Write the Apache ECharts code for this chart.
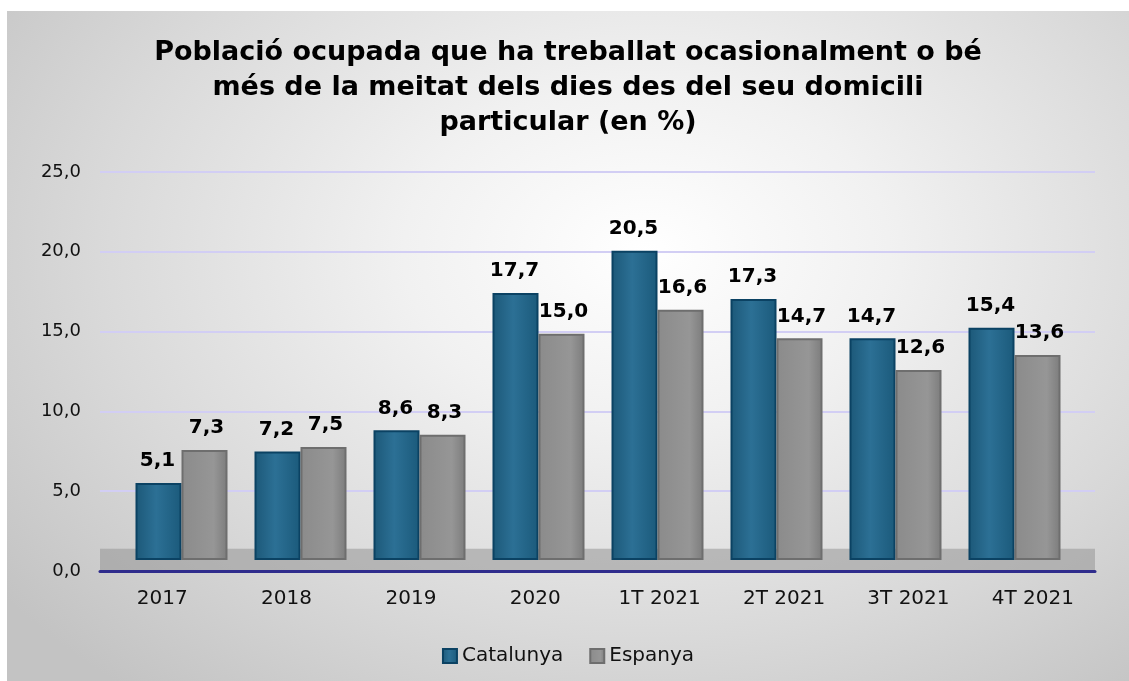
<!DOCTYPE html>
<html lang="ca">
<head>
    <meta charset="UTF-8">
    <script src="https://cdn.jsdelivr.net/npm/echarts@6/dist/echarts.min.js"></script>
    <title>Població ocupada - teletreball</title>
    <style>
        body {
            margin: 0;
            background: #ffffff;
        }
        #main {
            position: absolute;
            left: 7px;
            top: 11px;
            width: 1122px;
            height: 670px;
            /* fons degradat com l'original */
            background: radial-gradient(ellipse 72% 85% at 57% 36%, #ffffff 0%, #f1f1f1 30%, #d9d9d9 68%, #c3c3c3 100%);
        }
    </style>
</head>
<body>
<div id="main"></div>

<script>
    var categories = ['2017', '2018', '2019', '2020', '1T 2021', '2T 2021', '3T 2021', '4T 2021'];
    var catalunya = [5.1, 7.2, 8.6, 17.7, 20.5, 17.3, 14.7, 15.4];
    var espanya = [7.3, 7.5, 8.3, 15.0, 16.6, 14.7, 12.6, 13.6];

    var font = 'DejaVu Sans, Verdana, sans-serif';

    function fmt(v) {
        return v.toFixed(1).replace('.', ',');
    }

    var labelStyle = {
        show: true,
        position: 'top',
        distance: 12,
        fontFamily: font,
        fontSize: 20,
        fontWeight: 'bold',
        color: '#000',
        formatter: function (p) { return fmt(p.value); }
    };

    var chart = echarts.init(document.getElementById('main'));

    chart.setOption({
        backgroundColor: 'transparent',
        textStyle: { fontFamily: font },
        title: {
            text: 'Població ocupada que ha treballat ocasionalment o bé\nmés de la meitat dels dies des del seu domicili\nparticular (en %)',
            left: 'center',
            top: 19,
            textStyle: {
                fontFamily: font,
                fontSize: 27,
                fontWeight: 'bold',
                color: '#000',
                lineHeight: 35
            }
        },
        legend: {
            bottom: 10,
            left: 'center',
            itemWidth: 14,
            itemHeight: 14,
            itemGap: 26,
            icon: 'rect',
            textStyle: { fontFamily: font, fontSize: 20, color: '#111' },
            data: ['Catalunya', 'Espanya']
        },
        // grid 0: eixos, etiquetes i línies; grid 1: barres (efecte de perspectiva)
        grid: [
            { left: 93, right: 34, top: 161, bottom: 110 },
            { left: 115, right: 55, top: 172, bottom: 121 }
        ],
        xAxis: [
            {
                type: 'category',
                gridIndex: 0,
                data: categories,
                axisTick: { show: false },
                axisLine: { lineStyle: { color: '#2f2c8c', width: 3 } },
                axisLabel: { fontFamily: font, fontSize: 20, color: '#111', margin: 18 },
                z: 5
            },
            {
                type: 'category',
                gridIndex: 1,
                data: categories,
                show: false
            }
        ],
        yAxis: [
            {
                type: 'value',
                gridIndex: 0,
                min: 0,
                max: 25,
                interval: 5,
                axisLabel: {
                    fontFamily: font, fontSize: 18, color: '#111', margin: 19,
                    formatter: function (v) { return fmt(v); }
                },
                splitLine: { lineStyle: { color: '#d2cef4', width: 2 } }
            },
            {
                type: 'value',
                gridIndex: 1,
                min: 0,
                max: 25,
                interval: 5,
                show: false,
                splitLine: { show: false }
            }
        ],
        series: [
            {
                name: 'terra',
                type: 'bar',
                xAxisIndex: 0,
                yAxisIndex: 0,
                data: [],
                z: 1,
                silent: true,
                markArea: {
                    silent: true,
                    itemStyle: { color: 'rgba(150,150,150,0.55)' },
                    data: [[{ yAxis: 0 }, { yAxis: 1.4 }]]
                }
            },
            {
                name: 'Catalunya',
                type: 'bar',
                xAxisIndex: 1,
                yAxisIndex: 1,
                data: catalunya,
                barWidth: 46,
                barGap: '0%',
                z: 3,
                itemStyle: {
                    color: new echarts.graphic.LinearGradient(0, 0, 1, 0, [
                        { offset: 0, color: '#1c5878' },
                        { offset: 0.45, color: '#2c7095' },
                        { offset: 1, color: '#1b5a7b' }
                    ]),
                    borderColor: '#0b4263',
                    borderWidth: 2
                },
                label: Object.assign({}, labelStyle, { offset: [-1, 0] })
            },
            {
                name: 'Espanya',
                type: 'bar',
                xAxisIndex: 1,
                yAxisIndex: 1,
                data: espanya,
                barWidth: 46,
                z: 3,
                itemStyle: {
                    color: new echarts.graphic.LinearGradient(0, 0, 1, 0, [
                        { offset: 0, color: '#8b8b8b' },
                        { offset: 0.7, color: '#969696' },
                        { offset: 1, color: '#7c7c7c' }
                    ]),
                    borderColor: '#6e6e6e',
                    borderWidth: 2
                },
                label: Object.assign({}, labelStyle, { offset: [2, 0] })
            }
        ]
    });
</script>
</body>
</html>
